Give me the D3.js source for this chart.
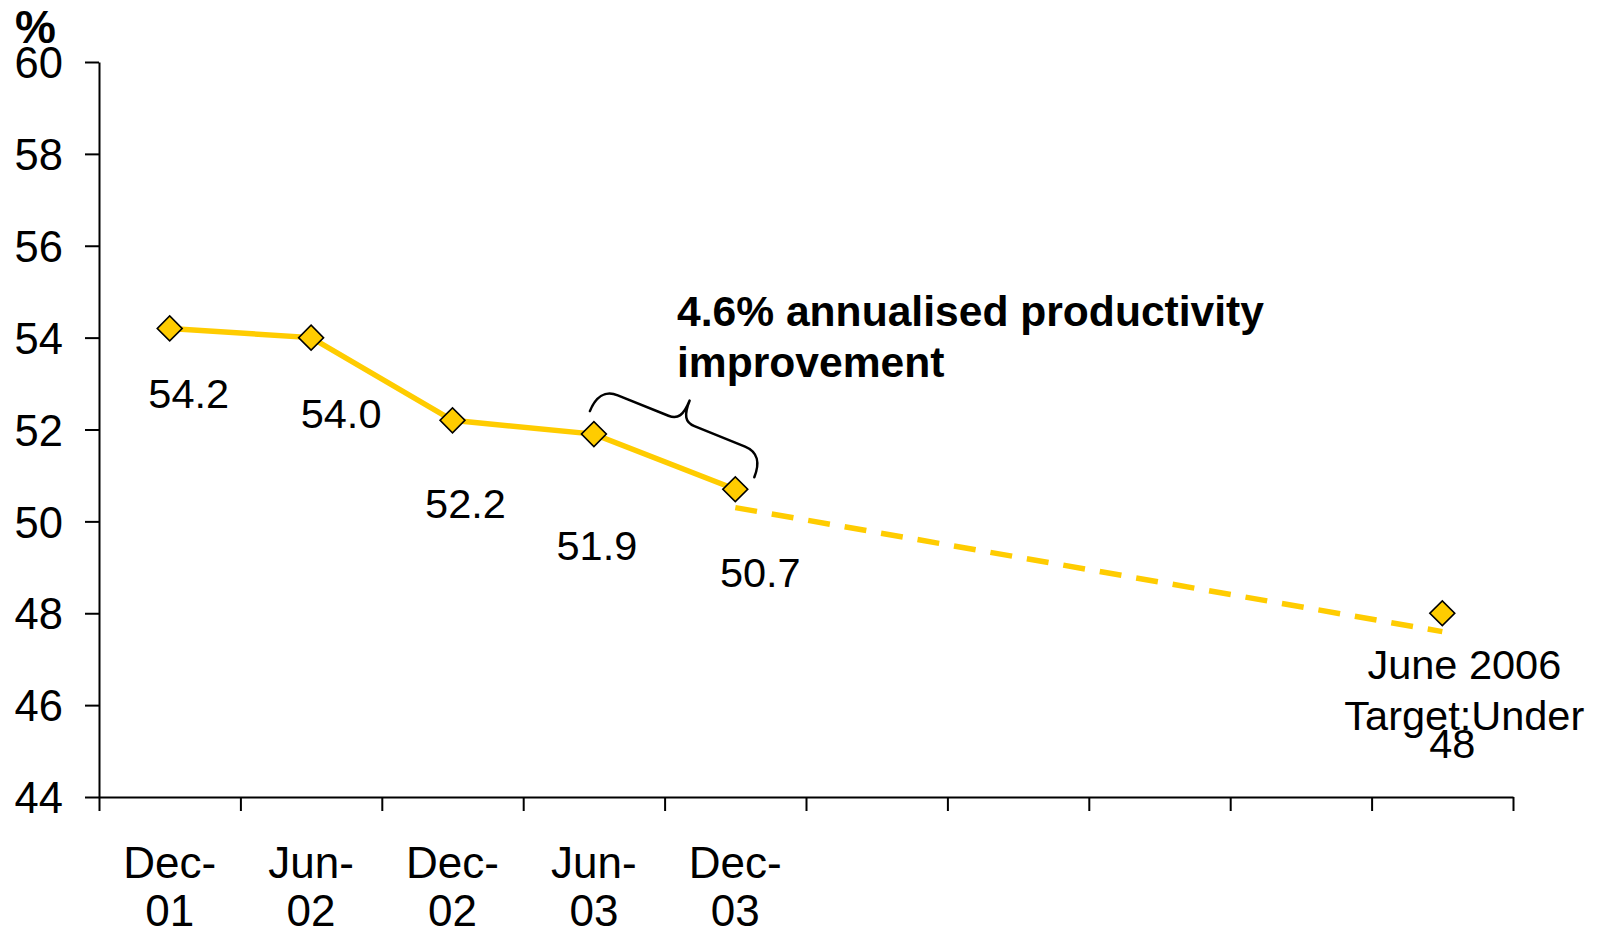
<!DOCTYPE html>
<html>
<head>
<meta charset="utf-8">
<script src="https://cdn.jsdelivr.net/npm/d3@7"></script>
<style>
  html, body { margin: 0; padding: 0; background: #ffffff; }
  svg { display: block; }
  text { font-family: "Liberation Sans", Arial, sans-serif; fill: #000; }
</style>
</head>
<body>
<svg id="chart" width="1601" height="931"></svg>
<script>
// ---------- data ----------
const categories = ["Dec-01", "Jun-02", "Dec-02", "Jun-03", "Dec-03", "", "", "", "", "June 2006"];
const axisLabels = [["Dec-", "01"], ["Jun-", "02"], ["Dec-", "02"], ["Jun-", "03"], ["Dec-", "03"], [], [], [], [], []];
const actual = [54.2, 54.0, 52.2, 51.9, 50.7, null, null, null, null, null];
const target = [null, null, null, null, null, null, null, null, null, 48];
const trend = [null, null, null, null, 50.3, null, null, null, null, 47.6];
const valueLabels = ["54.2", "54.0", "52.2", "51.9", "50.7", null, null, null, null, null];
const targetLabelLines = ["June 2006", "Target:Under", "48"];
const yTicks = [44, 46, 48, 50, 52, 54, 56, 58, 60];
const yUnit = "%";
const annotationLines = ["4.6% annualised productivity", "improvement"];

// ---------- layout ----------
const plot = { left: 99, right: 1513, top: 62, bottom: 797 };
const gold = "#FFCC00";
// label nudges (px) relative to each point: [dx, baseline dy]
const labelNudge = [[19, 80], [30, 90], [13, 98], [3, 126], [25, 98]];
const targetNudge = [[22, 66], [22, 117], [10, 145]];

const svg = d3.select("#chart");

const x = d3.scaleLinear().domain([0, categories.length]).range([plot.left, plot.right]);
const xc = i => x(i + 0.5);
const y = d3.scaleLinear().domain([44, 60]).range([plot.bottom, plot.top]);

// y axis
const yAxis = d3.axisLeft(y).tickValues(yTicks).tickSize(14).tickSizeOuter(0).tickPadding(22)
  .tickFormat(d3.format("d"));
const gy = svg.append("g").attr("transform", `translate(${plot.left},0)`).call(yAxis);
gy.selectAll("text").style("font-size", "43.5px").attr("dy", "0.36em");
gy.selectAll("line, path").attr("stroke", "#000").attr("stroke-width", 2);

// x axis (ticks at category boundaries, no labels)
const xAxis = d3.axisBottom(x).tickValues(d3.range(0, categories.length + 1)).tickSize(14)
  .tickSizeOuter(0).tickFormat("");
const gx = svg.append("g").attr("transform", `translate(0,${plot.bottom})`).call(xAxis);
gx.selectAll("line, path").attr("stroke", "#000").attr("stroke-width", 2);

// category labels
axisLabels.forEach((lines, i) => {
  if (!lines.length) return;
  const t = svg.append("text").attr("text-anchor", "middle").style("font-size", "44px");
  lines.forEach((ln, k) => {
    t.append("tspan").attr("x", xc(i)).attr("y", 878 + k * 48).text(ln);
  });
});

// unit label
svg.append("text").attr("x", 15).attr("y", 43).style("font-size", "46px")
  .style("font-weight", "bold").text(yUnit);

// dashed trend
const lineGen = d3.line().defined(d => d.v !== null).x(d => xc(d.i)).y(d => y(d.v));
const trendPts = trend.map((v, i) => ({ i, v })).filter(d => d.v !== null);
svg.append("path").datum(trendPts).attr("d", d3.line().x(d => xc(d.i)).y(d => y(d.v)))
  .attr("fill", "none").attr("stroke", gold).attr("stroke-width", 5.5)
  .attr("stroke-dasharray", "22,15");

// solid actual line
const actualPts = actual.map((v, i) => ({ i, v }));
svg.append("path").datum(actualPts).attr("d", lineGen)
  .attr("fill", "none").attr("stroke", gold).attr("stroke-width", 5.5);

// markers
const sym = d3.symbol().type(d3.symbolSquare).size(310);
const markerPts = actualPts.filter(d => d.v !== null)
  .concat(target.map((v, i) => ({ i, v })).filter(d => d.v !== null));
svg.selectAll("path.marker").data(markerPts).join("path").attr("class", "marker")
  .attr("d", sym)
  .attr("transform", d => `translate(${xc(d.i)},${y(d.v)}) rotate(45)`)
  .attr("fill", gold).attr("stroke", "#000").attr("stroke-width", 1.6);

// value labels
valueLabels.forEach((lab, i) => {
  if (lab === null) return;
  svg.append("text").attr("x", xc(i) + labelNudge[i][0]).attr("y", y(actual[i]) + labelNudge[i][1])
    .attr("text-anchor", "middle").style("font-size", "41.5px").text(lab);
});

// target label
const ti = target.findIndex(v => v !== null);
targetLabelLines.forEach((ln, k) => {
  svg.append("text").attr("x", xc(ti) + targetNudge[k][0]).attr("y", y(target[ti]) + targetNudge[k][1])
    .attr("text-anchor", "middle").style("font-size", "41.5px").text(ln);
});

// brace between Jun-03 and Dec-03
const p1 = [xc(3) - 4, y(actual[3]) - 23];
const p2 = [xc(4) + 19, y(actual[4]) - 12];
const L = Math.hypot(p2[0] - p1[0], p2[1] - p1[1]);
const ang = Math.atan2(p2[1] - p1[1], p2[0] - p1[0]) * 180 / Math.PI;
const m = L / 2, a = 25, tip = 47;
const bracePath = `M0,0 C0,${-a * 0.6} 6,${-a} 20,${-a} L${m - 14},${-a} C${m - 4},${-a} ${m},${-a - 6} ${m},${-tip}` +
  ` M${m},${-tip} C${m},${-a - 6} ${m + 4},${-a} ${m + 14},${-a} L${L - 20},${-a} C${L - 6},${-a} ${L},${-a * 0.6} ${L},0`;
svg.append("path").attr("d", bracePath)
  .attr("transform", `translate(${p1[0]},${p1[1]}) rotate(${ang})`)
  .attr("fill", "none").attr("stroke", "#000").attr("stroke-width", 2.5).attr("stroke-linecap", "round");

// annotation text
const ann = svg.append("text").style("font-size", "42.6px").style("font-weight", "bold");
annotationLines.forEach((ln, k) => {
  ann.append("tspan").attr("x", 677).attr("y", 326 + k * 51).text(ln);
});
</script>
</body>
</html>
